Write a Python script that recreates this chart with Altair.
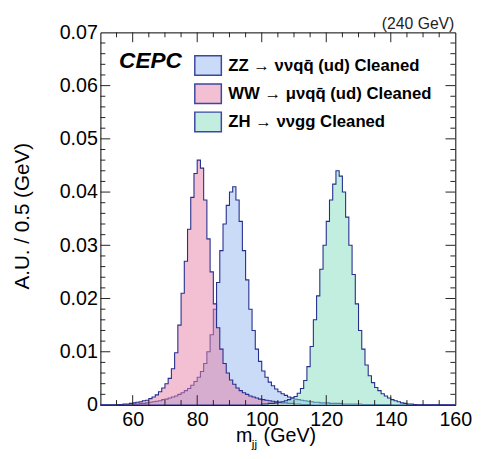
import altair as alt
import numpy as np
import pandas as pd

# ---------------- data (A.U. per bin) ----------------
X_MIN, X_MAX, BIN = 50, 160, 1.0

ZZ_START = 60
ZZ = [0.0002, 0.0002, 0.0003, 0.0003, 0.0004,
      0.0005, 0.0006, 0.0007, 0.0008, 0.0010,
      0.0011, 0.0013, 0.0015, 0.0017, 0.0020,
      0.0023, 0.0027, 0.0031, 0.0037, 0.0044,
      0.0052, 0.0063, 0.0078, 0.0100, 0.0132,
      0.0180, 0.0230, 0.0290, 0.0340, 0.0375,
      0.0400, 0.0410, 0.0385, 0.0345, 0.0290,
      0.0235, 0.0180, 0.0140, 0.0105, 0.0082,
      0.0064, 0.0052, 0.0043, 0.0036, 0.0030,
      0.0025, 0.0021, 0.0018, 0.0015, 0.0013,
      0.0011, 0.0010, 0.0009, 0.0008, 0.0007,
      0.0006, 0.0005, 0.0005, 0.0004, 0.0004,
      0.0004, 0.0003, 0.0003, 0.0003, 0.0003,
      0.0002, 0.0002, 0.0002, 0.0002, 0.0002,
      0.0002, 0.0001, 0.0001, 0.0001, 0.0001,
      0.0001, 0.0001, 0.0001, 0.0001, 0.0001]

WW_START = 55
WW = [0.0001, 0.0001, 0.0002, 0.0002, 0.0003,
      0.0004, 0.0005, 0.0006, 0.0008, 0.0009,
      0.0012, 0.0015, 0.0019, 0.0025, 0.0032,
      0.0040, 0.0050, 0.0068, 0.0098, 0.0150,
      0.0210, 0.0270, 0.0330, 0.0390, 0.0435,
      0.0460, 0.0445, 0.0385, 0.0312, 0.0250,
      0.0190, 0.0145, 0.0105, 0.0078, 0.0060,
      0.0047, 0.0039, 0.0032, 0.0027, 0.0023,
      0.0020, 0.0017, 0.0015, 0.0013, 0.0011,
      0.0010, 0.0009, 0.0008, 0.0007, 0.0006,
      0.0005, 0.0004, 0.0004, 0.0003, 0.0003,
      0.0002, 0.0002, 0.0001, 0.0001, 0.0001]

ZH_START = 100
ZH = [0.0002, 0.0002, 0.0003, 0.0003, 0.0004,
      0.0005, 0.0006, 0.0008, 0.0010, 0.0013,
      0.0016, 0.0022, 0.0031, 0.0046, 0.0072,
      0.0110, 0.0160, 0.0205, 0.0255, 0.0300,
      0.0345, 0.0385, 0.0415, 0.0440, 0.0430,
      0.0400, 0.0353, 0.0300, 0.0245, 0.0190,
      0.0140, 0.0105, 0.0075, 0.0055, 0.0042,
      0.0033, 0.0027, 0.0021, 0.0017, 0.0013,
      0.0010, 0.0008, 0.0006, 0.0004, 0.0003,
      0.0002, 0.0002, 0.0001]

LEGEND_LABELS = ["ZZ \u2192 \u03bd\u03bdqq\u0304 (ud) Cleaned",
                 "WW \u2192 \u03bc\u03bdqq\u0304 (ud) Cleaned",
                 "ZH \u2192 \u03bd\u03bdgg Cleaned"]
FILL_COLORS = ["#93b7ef", "#e57fa7", "#83ddbf"]
LEGEND_FILLS = ["#c9dbf7", "#f2bfd3", "#c3eedf"]

X_LABELS = [60, 80, 100, 120, 140, 160]
Y_LABELS = [0, 0.01, 0.02, 0.03, 0.04, 0.05, 0.06, 0.07]

# ---------------- style ----------------
FONT = "Liberation Sans"
LINE = "#262f8e"
W, H = 361, 379

xscale = alt.Scale(domain=[X_MIN, X_MAX], nice=False, zero=False)
yscale = alt.Scale(domain=[0, 0.07], nice=False, zero=True)
xaxis = alt.Axis(values=X_LABELS, ticks=False, domain=False, grid=False,
                 labelFont=FONT, labelFontSize=20, labelColor="black",
                 labelPadding=5, labelFlush=False, title=None)
yaxis = alt.Axis(values=Y_LABELS, ticks=False, domain=False, grid=False,
                 labelExpr="datum.value == 0 ? '0' : format(datum.value, '.2f')",
                 labelFont=FONT, labelFontSize=20, labelColor="black",
                 labelPadding=3, labelFlush=False, title=None)


def hist_df(start, vals):
    edges = np.arange(X_MIN, X_MAX + BIN, BIN)
    v = np.zeros(len(edges))
    off = int(round((start - X_MIN) / BIN))
    v[off:off + len(vals)] = vals
    return pd.DataFrame({"x": edges, "v": v})


def hist_layers(df, color):
    base = alt.Chart(df).encode(
        x=alt.X("x:Q", scale=xscale, axis=xaxis),
        y=alt.Y("v:Q", scale=yscale, axis=yaxis),
    )
    area = base.mark_area(interpolate="step-after", color=color, opacity=0.5)
    line = base.mark_line(interpolate="step-after", color=LINE, strokeWidth=1.1)
    return [area, line]


layers = []
for (start, vals), col in zip([(ZZ_START, ZZ), (WW_START, WW), (ZH_START, ZH)], FILL_COLORS):
    layers += hist_layers(hist_df(start, vals), col)

# ---------------- inward ticks (ROOT style) ----------------
x_major = [v for v in X_LABELS if v < X_MAX]
x_minor = [v for v in np.arange(55, 160, 5) if v not in X_LABELS]
y_major = [0.01, 0.02, 0.03, 0.04, 0.05, 0.06]
y_minor = [round(v, 3) for v in np.arange(0.002, 0.07, 0.002) if round(v * 1000) % 10 != 0]

TICK = "#222222"


def xticks(vals, length):
    d = pd.DataFrame({"x": vals})
    out = []
    for y0, y1 in [(H, H - length), (0, length)]:
        out.append(alt.Chart(d).mark_rule(color=TICK, strokeWidth=1).encode(
            x=alt.X("x:Q", scale=xscale, axis=xaxis),
            y=alt.value(y0), y2=alt.value(y1)))
    return out


def yticks(vals, length):
    d = pd.DataFrame({"v": vals})
    out = []
    for x0, x1 in [(0, length), (W, W - length)]:
        out.append(alt.Chart(d).mark_rule(color=TICK, strokeWidth=1).encode(
            y=alt.Y("v:Q", scale=yscale, axis=yaxis),
            x=alt.value(x0), x2=alt.value(x1)))
    return out


layers += xticks(x_major, 10) + xticks(x_minor, 5)
layers += yticks(y_major, 10) + yticks(y_minor, 5)

# ---------------- legend & annotations ----------------
one = pd.DataFrame({"a": [0]})
for i, (lab, fill) in enumerate(zip(LEGEND_LABELS, LEGEND_FILLS)):
    y0 = 23.7 + i * 28.7
    layers.append(alt.Chart(one).mark_rect(fill=fill, stroke="#3b47a3", strokeWidth=1.5).encode(
        x=alt.value(96), x2=alt.value(123), y=alt.value(y0), y2=alt.value(y0 + 20)))
    layers.append(alt.Chart(one).mark_text(text=lab, font=FONT, fontSize=17, fontWeight="bold",
                                           align="left", baseline="middle", color="black").encode(
        x=alt.value(130), y=alt.value(y0 + 10.5)))

layers.append(alt.Chart(one).mark_text(text="CEPC", font=FONT, fontSize=23, fontWeight="bold",
                                       fontStyle="italic", align="left", baseline="alphabetic",
                                       color="black").encode(x=alt.value(19), y=alt.value(36)))
layers.append(alt.Chart(one).mark_text(text="(240 GeV)", font=FONT, fontSize=16, align="right",
                                       baseline="alphabetic", color="#222222").encode(
    x=alt.value(360), y=alt.value(-3)))

# axis titles
layers.append(alt.Chart(one).mark_text(text="A.U. / 0.5 (GeV)", font=FONT, fontSize=21, angle=270,
                                       align="center", baseline="middle", color="black").encode(
    x=alt.value(-79), y=alt.value(187)))
layers.append(alt.Chart(one).mark_text(text="m", font=FONT, fontSize=20, align="left",
                                       baseline="alphabetic", color="black").encode(
    x=alt.value(138), y=alt.value(417)))
layers.append(alt.Chart(one).mark_text(text="jj", font=FONT, fontSize=12, align="left",
                                       baseline="alphabetic", color="black").encode(
    x=alt.value(154), y=alt.value(423)))
layers.append(alt.Chart(one).mark_text(text="(GeV)", font=FONT, fontSize=20, align="left",
                                       baseline="alphabetic", color="black").encode(
    x=alt.value(166), y=alt.value(417)))

chart = alt.layer(*layers).properties(
    width=W, height=H,
    padding={"left": 94, "top": 21, "right": 19, "bottom": 43},
    autosize=alt.AutoSizeParams(type="none"),
).configure_view(stroke="black", strokeWidth=1)

chart.save("out.html", embed_options={"renderer": "svg", "actions": False})
